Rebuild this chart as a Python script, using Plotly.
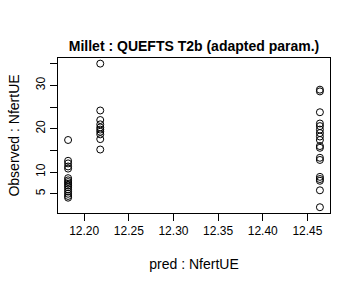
import plotly.graph_objects as go

# Data
x_c1 = 12.182
y_c1 = [17.4, 12.6, 12.0, 11.3, 10.8, 8.6, 8.1, 7.7, 7.3, 6.9, 6.5, 6.0, 5.5, 5.0, 4.5, 4.1]
x_c2 = 12.218
y_c2 = [35.0, 24.2, 22.0, 21.0, 20.3, 19.8, 19.3, 18.7, 17.6, 15.2]
x_c3 = 12.464
y_c3 = [29.0, 28.6, 23.8, 21.2, 20.6, 19.8, 19.0, 18.2, 17.4, 16.0, 15.6, 13.3, 12.8, 8.9, 8.4, 8.0, 5.8, 1.9]

xs = [x_c1] * len(y_c1) + [x_c2] * len(y_c2) + [x_c3] * len(y_c3)
ys = y_c1 + y_c2 + y_c3

x_ticks = [12.20, 12.25, 12.30, 12.35, 12.40, 12.45]
x_ticktext = ["12.20", "12.25", "12.30", "12.35", "12.40", "12.45"]
y_ticks = [5, 10, 15, 20, 25, 30, 35]
y_ticktext = ["5", "10", "", "20", "", "30", ""]

FONT = "Liberation Sans, Arial, Helvetica, sans-serif"

fig = go.Figure()
fig.add_trace(go.Scatter(
    x=xs, y=ys, mode="markers",
    marker=dict(symbol="circle-open", size=7, color="black", line=dict(width=1, color="black")),
    showlegend=False,
))

fig.update_layout(
    width=360, height=288,
    margin=dict(l=58, r=30, t=58, b=75),
    paper_bgcolor="white", plot_bgcolor="white",
    font=dict(family=FONT, size=12, color="black"),
    title=dict(text="<b>Millet : QUEFTS T2b (adapted param.)</b>",
               x=0.5, xref="paper", xanchor="center",
               y=1 - 46 / 288, yref="container", yanchor="middle",
               font=dict(family=FONT, size=14, color="black")),
)
fig.update_xaxes(
    range=[12.1707, 12.4753], tickvals=x_ticks, ticktext=x_ticktext,
    showgrid=False, zeroline=False, showline=True, mirror=True,
    linecolor="black", linewidth=1, ticks="outside", ticklen=7, tickcolor="black",
    title=dict(text="pred : NfertUE", standoff=21),
)
fig.update_yaxes(
    range=[0.57, 36.3], tickvals=y_ticks, ticktext=y_ticktext, tickangle=-90,
    showgrid=False, zeroline=False, showline=True, mirror=True,
    linecolor="black", linewidth=1, ticks="outside", ticklen=7, tickcolor="black",
    title=dict(text="Observed : NfertUE", standoff=11),
)

fig.write_html("out.html")
